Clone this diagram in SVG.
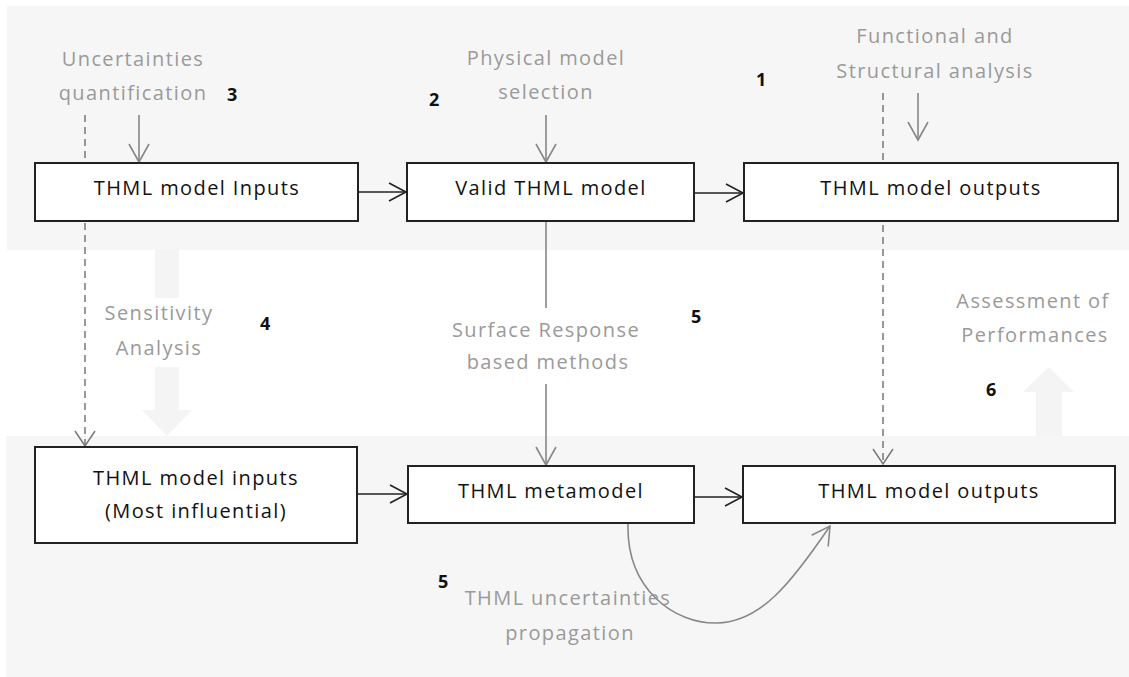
<svg xmlns="http://www.w3.org/2000/svg" width="1129" height="677" viewBox="0 0 1129 677">
<style>
.panel{fill:#f6f6f6}
.big{fill:#f4f4f4}
.box{fill:#fff;stroke:#222;stroke-width:2}
.bt{font-family:"Open Sans","Noto Sans",sans-serif;font-size:20px;fill:#111;text-anchor:middle;letter-spacing:1.4px}
.lbl{font-family:"Open Sans","Noto Sans",sans-serif;font-size:20px;fill:#9a9a9a;text-anchor:middle;letter-spacing:1.4px}
.num{font-family:"Open Sans","Noto Sans",sans-serif;font-size:18px;font-weight:bold;fill:#111}
.dark{fill:none;stroke:#222;stroke-width:1.6}
.gray{fill:none;stroke:#888;stroke-width:1.6}
.dash{fill:none;stroke:#777;stroke-width:1.5;stroke-dasharray:7 5}
</style>
<defs>
<marker id="ad" markerUnits="userSpaceOnUse" markerWidth="24" markerHeight="24" viewBox="-20 -12 24 24" refX="0" refY="0" orient="auto">
<path d="M-17,-9 L0,0 L-17,9" fill="none" stroke="#222" stroke-width="1.6"/>
</marker>
<marker id="ag" markerUnits="userSpaceOnUse" markerWidth="24" markerHeight="24" viewBox="-20 -12 24 24" refX="0" refY="0" orient="auto">
<path d="M-18,-10 L0,0 L-18,10" fill="none" stroke="#888" stroke-width="1.6"/>
</marker>
<marker id="ak" markerUnits="userSpaceOnUse" markerWidth="24" markerHeight="24" viewBox="-20 -12 24 24" refX="0" refY="0" orient="auto">
<path d="M-15,-10 L0,0 L-15,10" fill="none" stroke="#777" stroke-width="1.5"/>
</marker>
</defs>
<rect width="1129" height="677" fill="#fff"/>
<g id="background">
<rect class="panel" x="7" y="6" width="1122" height="244"/>
<rect class="panel" x="6" y="436" width="1123" height="241"/>
<path class="big" d="M155,250 H179 V298 H155 Z M155,367 H179 V410 H192 L167,436 L142,410 H155 Z"/>
<path class="big" d="M1036,436 V392 H1023 L1048.5,367 L1074,392 H1062 V436 Z"/>
</g>
<g id="connectors">
<line class="dash" x1="85" y1="115" x2="85" y2="446" marker-end="url(#ak)"/>
<line class="dash" x1="883" y1="93" x2="883" y2="464" marker-end="url(#ak)"/>
<line class="gray" x1="139" y1="115" x2="139" y2="162" marker-end="url(#ag)"/>
<line class="gray" x1="546" y1="115" x2="546" y2="162" marker-end="url(#ag)"/>
<line class="gray" x1="918" y1="93" x2="918" y2="140" marker-end="url(#ag)"/>
<line class="gray" x1="546" y1="221" x2="546" y2="308"/>
<line class="gray" x1="546" y1="384" x2="546" y2="465" marker-end="url(#ag)"/>
<line class="dark" x1="358" y1="192" x2="406" y2="192" marker-end="url(#ad)"/>
<line class="dark" x1="694" y1="193" x2="743" y2="193" marker-end="url(#ad)"/>
<line class="dark" x1="357" y1="494" x2="407" y2="494" marker-end="url(#ad)"/>
<line class="dark" x1="694" y1="497" x2="742" y2="497" marker-end="url(#ad)"/>
<path class="gray" d="M628,523 C626,590 675,624 717,623 C760,622 790,585 830,526" marker-end="url(#ag)"/>
</g>
<g id="node-inputs">
<rect class="box" x="35" y="163" width="323" height="58"/>
<text class="bt" x="197" y="195">THML model Inputs</text>
</g>
<g id="node-valid">
<rect class="box" x="407" y="163" width="287" height="58"/>
<text class="bt" x="551" y="195">Valid THML model</text>
</g>
<g id="node-outputs-top">
<rect class="box" x="744" y="163" width="374" height="58"/>
<text class="bt" x="931" y="195">THML model outputs</text>
</g>
<g id="node-inputs-influential">
<rect class="box" x="35" y="447" width="322" height="96"/>
<text class="bt" x="196" y="485">THML model inputs</text>
<text class="bt" x="196" y="518">(Most influential)</text>
</g>
<g id="node-metamodel">
<rect class="box" x="408" y="466" width="286" height="57"/>
<text class="bt" x="551" y="498">THML metamodel</text>
</g>
<g id="node-outputs-bottom">
<rect class="box" x="743" y="466" width="372" height="57"/>
<text class="bt" x="929" y="498">THML model outputs</text>
</g>
<g id="labels">
<text class="lbl" x="133" y="66">Uncertainties</text>
<text class="lbl" x="133" y="100">quantification</text>
<text class="lbl" x="546" y="65">Physical model</text>
<text class="lbl" x="546" y="99">selection</text>
<text class="lbl" x="935" y="43">Functional and</text>
<text class="lbl" x="935" y="78">Structural analysis</text>
<text class="lbl" x="159" y="320">Sensitivity</text>
<text class="lbl" x="159" y="355">Analysis</text>
<text class="lbl" x="546" y="337">Surface Response</text>
<text class="lbl" x="548" y="369">based methods</text>
<text class="lbl" x="1033" y="308">Assessment of</text>
<text class="lbl" x="1035" y="342">Performances</text>
<text class="lbl" x="568" y="605">THML uncertainties</text>
<text class="lbl" x="570" y="640">propagation</text>
<text class="num" x="227" y="101">3</text>
<text class="num" x="429" y="106">2</text>
<text class="num" x="756" y="86">1</text>
<text class="num" x="260" y="330">4</text>
<text class="num" x="691" y="323">5</text>
<text class="num" x="986" y="396">6</text>
<text class="num" x="438" y="588">5</text>
</g>
</svg>
